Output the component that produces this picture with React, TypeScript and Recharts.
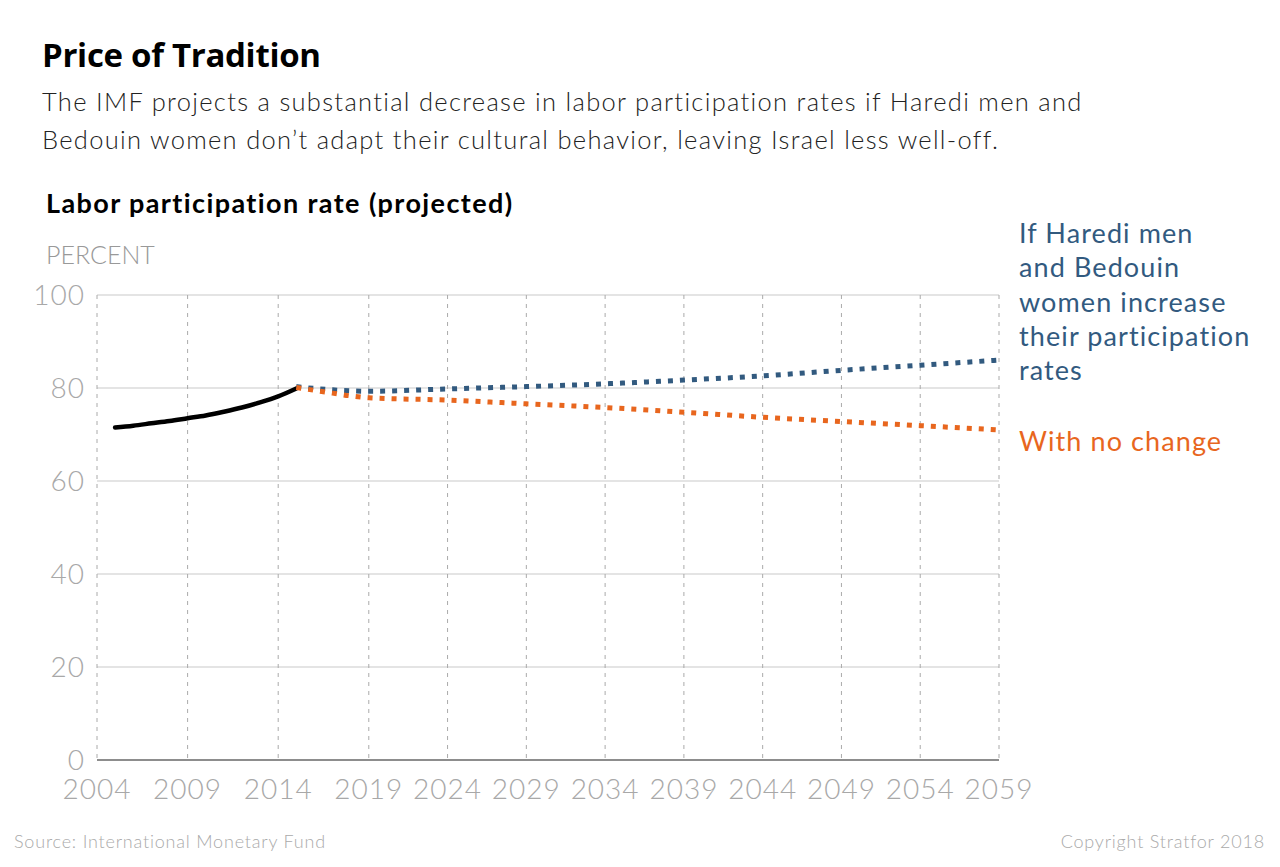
import { LineChart, Line, XAxis, YAxis, CartesianGrid } from "recharts";

const HIST_YEARS = [2005, 2006, 2007, 2008, 2009, 2010, 2011, 2012, 2013, 2014, 2015];
const HIST_RATE = [71.5, 71.9, 72.4, 72.9, 73.5, 74.1, 74.9, 75.8, 76.9, 78.2, 79.9];

const PROJ_YEARS = [2015, 2016, 2017, 2018, 2019, 2024, 2029, 2034, 2039, 2044, 2049, 2054, 2059];
const RATE_IF_ADAPT = [80.3, 79.9, 79.6, 79.4, 79.3, 79.8, 80.3, 80.9, 81.7, 82.6, 83.8, 84.9, 86.0];
const RATE_NO_CHANGE = [80.1, 79.5, 78.9, 78.3, 77.9, 77.4, 76.6, 75.8, 74.8, 73.7, 72.8, 71.9, 71.0];

const X_TICKS = [2004, 2009, 2014, 2019, 2024, 2029, 2034, 2039, 2044, 2049, 2054, 2059];
const Y_TICKS = [0, 20, 40, 60, 80, 100];

const ADAPT_LABEL = ["If Haredi men", "and Bedouin", "women increase", "their participation", "rates"];
const NO_CHANGE_LABEL = "With no change";

const BLUE = "#325a7f";
const ORANGE = "#e8661e";
const GREY = "#a8a8a8";

// the original stretches the years before 2019 a bit wider than the projection years
const BREAK_YEAR = 2019;
const EARLY_STRETCH = 1.15;

function yearScale(): any {
  let dom: number[] = [2004, 2059];
  let rng: number[] = [0, 1];
  const warp = (y: number) => (y < BREAK_YEAR ? (y - BREAK_YEAR) * EARLY_STRETCH : y - BREAK_YEAR);
  const scale: any = (y: number) => {
    const a = warp(dom[0]);
    const b = warp(dom[dom.length - 1]);
    return rng[0] + ((warp(Number(y)) - a) / (b - a)) * (rng[rng.length - 1] - rng[0]);
  };
  scale.domain = (d?: any[]) => {
    if (d === undefined) return dom.slice();
    dom = d.map(Number);
    return scale;
  };
  scale.range = (r?: number[]) => {
    if (r === undefined) return rng.slice();
    rng = r.slice();
    return scale;
  };
  scale.copy = () => yearScale().domain(dom).range(rng);
  scale.ticks = () => X_TICKS;
  scale.invert = (px: number) => {
    const a = warp(dom[0]);
    const b = warp(dom[dom.length - 1]);
    const w = a + ((px - rng[0]) / (rng[rng.length - 1] - rng[0])) * (b - a);
    return w < 0 ? BREAK_YEAR + w / EARLY_STRETCH : BREAK_YEAR + w;
  };
  return scale;
}

const allYears = Array.from(new Set([...HIST_YEARS, ...PROJ_YEARS])).sort((a, b) => a - b);
const data = allYears.map((year) => {
  const h = HIST_YEARS.indexOf(year);
  const p = PROJ_YEARS.indexOf(year);
  return {
    year,
    hist: h >= 0 ? HIST_RATE[h] : null,
    adapt: p >= 0 ? RATE_IF_ADAPT[p] : null,
    noChange: p >= 0 ? RATE_NO_CHANGE[p] : null,
  };
});

const tickStyle = { fill: GREY, fontSize: 28, fontFamily: "Lato", fontWeight: 300, letterSpacing: 1 };

export default function App() {
  return (
    <div
      style={{
        position: "absolute",
        left: 0,
        top: 0,
        width: 1280,
        height: 867,
        background: "#fff",
        fontFamily: "Lato",
      }}
    >
      <svg width={1280} height={867} style={{ position: "absolute", left: 0, top: 0 }}>
        <text x={42} y={67} fontFamily="Open Sans" fontWeight={700} fontSize={33} fill="#000" letterSpacing={-0.3}>
          Price of Tradition
        </text>
        <text x={42} y={111} fontFamily="Lato" fontWeight={300} fontSize={25.5} fill="#222" letterSpacing={1.3}>
          The IMF projects a substantial decrease in labor participation rates if Haredi men and
        </text>
        <text x={42} y={149} fontFamily="Lato" fontWeight={300} fontSize={25.5} fill="#222" letterSpacing={1.3}>
          Bedouin women don’t adapt their cultural behavior, leaving Israel less well-off.
        </text>
        <text x={46} y={213} fontFamily="Lato" fontWeight={700} fontSize={27} fill="#000" letterSpacing={1.4}>
          Labor participation rate (projected)
        </text>
        <text x={46} y={264} fontFamily="Lato" fontWeight={300} fontSize={25} fill="#999">
          PERCENT
        </text>
        {ADAPT_LABEL.map((line, i) => (
          <text
            key={line}
            x={1019}
            y={243 + i * 34.3}
            fontFamily="Lato"
            fontSize={27}
            fill={BLUE}
            letterSpacing={1.1}
          >
            {line}
          </text>
        ))}
        <text x={1019} y={451} fontFamily="Lato" fontSize={27} fill={ORANGE} letterSpacing={1.1}>
          {NO_CHANGE_LABEL}
        </text>
        <text x={14} y={848} fontFamily="Lato" fontWeight={300} fontSize={18} fill="#aaa" letterSpacing={0.8}>
          Source: International Monetary Fund
        </text>
        <text
          x={1265}
          y={848}
          textAnchor="end"
          fontFamily="Lato"
          fontWeight={300}
          fontSize={18}
          fill="#aaa"
          letterSpacing={0.8}
        >
          Copyright Stratfor 2018
        </text>
      </svg>
      <div style={{ position: "absolute", left: 0, top: 0 }}>
        <LineChart width={1280} height={867} data={data} margin={{ top: 295, right: 281, bottom: 57, left: 47 }}>
          <CartesianGrid vertical={false} stroke="#c9c9c9" />
          <CartesianGrid horizontal={false} stroke="#aaa" strokeDasharray="4 5" />
          <XAxis
            dataKey="year"
            type="number"
            scale={yearScale()}
            domain={[2004, 2059]}
            ticks={X_TICKS}
            interval={0}
            height={50}
            tickLine={false}
            tickSize={0}
            tickMargin={19}
            axisLine={{ stroke: "#707070", strokeWidth: 1.5 }}
            tick={tickStyle}
          />
          <YAxis
            type="number"
            domain={[0, 100]}
            ticks={Y_TICKS}
            width={50}
            axisLine={false}
            tickLine={false}
            tickSize={0}
            tickMargin={12}
            tick={tickStyle}
          />
          <Line
            dataKey="hist"
            type="monotone"
            stroke="#000"
            strokeWidth={4.5}
            strokeLinecap="round"
            dot={false}
            activeDot={false}
            isAnimationActive={false}
          />
          <Line
            dataKey="adapt"
            type="monotone"
            stroke={BLUE}
            strokeWidth={5}
            strokeDasharray="5 7"
            dot={false}
            activeDot={false}
            isAnimationActive={false}
          />
          <Line
            dataKey="noChange"
            type="monotone"
            stroke={ORANGE}
            strokeWidth={5}
            strokeDasharray="5 7"
            dot={false}
            activeDot={false}
            isAnimationActive={false}
          />
        </LineChart>
      </div>
    </div>
  );
}
